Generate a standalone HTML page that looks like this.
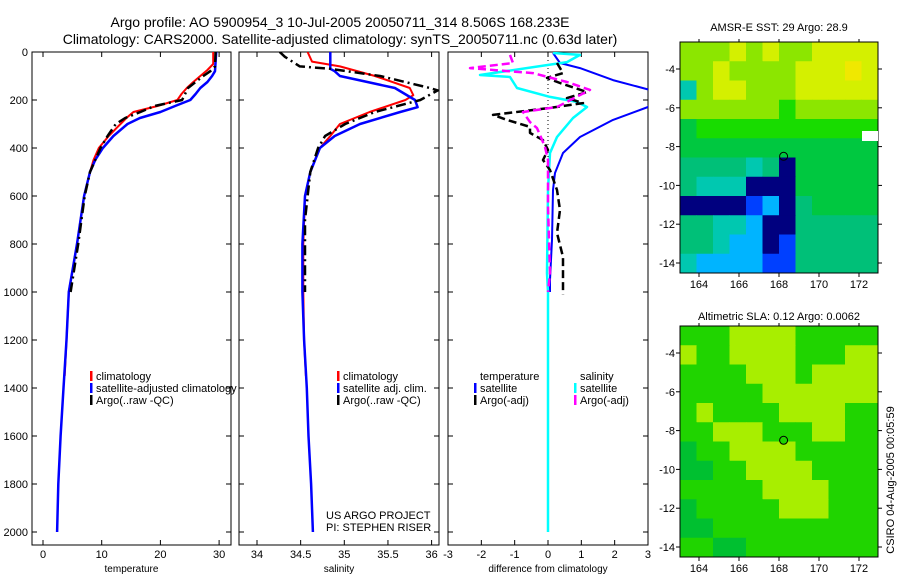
<!DOCTYPE html>
<html><head><meta charset="utf-8"><style>
body{margin:0;background:#fff;}
svg{display:block;font-family:"Liberation Sans",sans-serif;}
</style></head><body>
<svg id="c" width="900" height="580" xmlns="http://www.w3.org/2000/svg">
<text x="340" y="27" font-size="14" text-anchor="middle">Argo profile: AO 5900954_3 10-Jul-2005 20050711_314 8.506S 168.233E</text>
<text x="340" y="44" font-size="14" text-anchor="middle">Climatology: CARS2000. Satellite-adjusted climatology: synTS_20050711.nc (0.63d later)</text>
<text x="779" y="31" font-size="11" text-anchor="middle">AMSR-E SST: 29 Argo: 28.9</text>
<text x="779" y="320" font-size="11" text-anchor="middle">Altimetric SLA: 0.12 Argo: 0.0062</text>
<text x="0" y="0" font-size="11" text-anchor="middle" transform="translate(894,480) rotate(-90)">CSIRO 04-Aug-2005 00:05:59</text>
<text x="326" y="519" font-size="11">US ARGO PROJECT</text>
<text x="326" y="531" font-size="11">PI: STEPHEN RISER</text>
</svg>
<script>
// ---- data ----
const tempClimDepth = [0,50,75,100,125,150,175,200,225,250,275,300,350,400,450,500,600,800,1000,1200,1350];
const tempClim = [29.0,29.0,28.0,26.8,25.6,24.5,23.6,22.9,19.5,15.4,14.2,13.2,11.2,9.5,8.6,8.0,7.0,5.8,4.4,4.0,3.7];
const tempSatDepth = [0,80,100,125,150,175,200,225,250,275,300,350,400,450,500,600,800,1000,1200,1400,1600,1800,2000];
const tempSat  = [29.5,29.3,28.8,28.0,26.8,26.0,25.1,22.5,20.0,16.5,14.4,12.0,10.2,8.9,8.0,7.0,5.8,4.4,4.0,3.5,3.0,2.6,2.4];
const tempArgoDepth = [0,60,80,100,125,150,175,200,225,250,275,300,350,400,500,600,800,1000];
const tempArgo = [29.4,29.3,28.5,27.3,26.0,24.7,24.2,23.7,19.0,16.6,14.0,12.4,11.0,9.8,8.0,7.1,6.0,4.7];
const salDepth = [0,40,60,100,150,180,200,250,300,350,400,500,600,800,1000,1200,1350];
const salClim = [34.58,34.63,34.95,35.35,35.75,35.79,35.70,35.29,34.95,34.84,34.72,34.61,34.55,34.53,34.53,34.54,34.56];
const salSatDepth = [0,70,80,100,150,200,230,250,300,350,400,500,600,800,1000,1200,1400,1600,1800,2000];
const salSat = [34.84,34.84,34.89,34.95,35.58,35.81,35.84,35.64,35.18,34.89,34.72,34.61,34.55,34.52,34.52,34.54,34.57,34.59,34.62,34.64];
const salArgoDepth = [0,20,60,70,100,150,160,200,250,300,350,400,500,700,1000];
const salArgo = [34.26,34.32,34.49,34.84,35.41,35.98,36.07,35.87,35.35,35.01,34.78,34.70,34.61,34.55,34.55];
const dTDepth = [4,46,67,117,167,229,283,354,421,504,575,783,950,1000];
const dTSat = [0.15,0.36,0.96,1.95,3.3,3.0,1.95,0.96,0.45,0.21,0.15,0.12,0.06,0.06];
const dTArgoDepth = [46,88,108,129,167,192,213,233,262,283,312,337,367,408,450,492,575,658,754,854,950,1010];
const dTArgo = [0.27,0.45,-0.03,0.36,1.17,0.57,1.05,0.06,-1.65,-1.23,-0.54,-0.54,-0.15,0,-0.15,0.06,0.27,0.36,0.27,0.45,0.45,0.45];
const dSSatDepth = [4,12,42,96,104,150,187,208,229,275,354,421,575,921,1000,2000];
const dSSat = [0.15,0.96,0.57,-2.04,-1.14,-0.93,0.06,0.87,1.17,0.75,0.27,0.06,0,-0.03,0,0];
const dSArgoDepth = [12,46,67,88,125,158,229,250,292,317,346,396,450,646,921,1000];
const dSArgo = [-1.14,-1.05,-2.34,-0.45,0.57,1.26,0.27,-0.75,-0.54,-0.33,-0.24,-0.09,0,0,0.06,0];
const depthTicks = [0,200,400,600,800,1000,1200,1400,1600,1800,2000];
const tempTicks = [0,10,20,30];
const salTicks = [34,34.5,35,35.5,36];
const diffTicks = [-3,-2,-1,0,1,2,3];
const lonTicks = [164,166,168,170,172];
const latTicks = [-4,-6,-8,-10,-12,-14];
const sstGrid = ["777878778888","778777788898","378877788888","777777677777","566666666666","555555555555","444434055555","433300055555","000012045555","443320044444","443220144444","322221144444"];
const slaGrid = ["666777766666","766777766677","666677767777","666667777777","676666777766","667776667766","566777766666","556677776666","666667777666","566666777666","556666666666","665566666666"];

const NS="http://www.w3.org/2000/svg";
const svg=document.getElementById('c');
function mk(tag,attrs,parent){const e=document.createElementNS(NS,tag);for(const k in attrs)e.setAttribute(k,attrs[k]);(parent||svg).appendChild(e);return e;}
const top0=52, bot=545;
const yD = d => top0 + d*0.24;
const xT = t => 43 + t*5.87;
const xS = s => 257 + (s-34)*87.3;
const xDf = v => 548 + v*33.33;

const panels=[[32,231,xT,tempTicks,'temperature','temperature-panel'],[239,439,xS,salTicks,'salinity','salinity-panel'],[448,648,xDf,diffTicks,'difference from climatology','difference-panel']];
panels.forEach((p,i)=>{
  const g=mk('g',{});
  
  
  const cp=mk('clipPath',{id:'cp'+i},g);
  mk('rect',{x:p[0],y:top0,width:p[1]-p[0],height:bot-top0},cp);
  mk('rect',{x:p[0],y:top0,width:p[1]-p[0],height:bot-top0,fill:'none',stroke:'#000','stroke-width':1},g);
  depthTicks.forEach(d=>{
    mk('line',{x1:p[0],x2:p[0]+5,y1:yD(d),y2:yD(d),stroke:'#000'},g);
    mk('line',{x1:p[1]-5,x2:p[1],y1:yD(d),y2:yD(d),stroke:'#000'},g);
    if(i==0){const t=mk('text',{x:28,y:yD(d)+4,'font-size':11,'text-anchor':'end'},g);t.textContent=d;
      
      }
  });
  p[3].forEach(v=>{
    const x=p[2](v);
    mk('line',{x1:x,x2:x,y1:bot,y2:bot-5,stroke:'#000'},g);
    mk('line',{x1:x,x2:x,y1:top0,y2:top0+5,stroke:'#000'},g);
    const t=mk('text',{x:x,y:bot+13,'font-size':11,'text-anchor':'middle'},g);t.textContent=v;
    
    
  });
  const xt=mk('text',{x:(p[0]+p[1])/2,y:572,'font-size':10,'text-anchor':'middle'},g);xt.textContent=p[4];
  
  
});
const zl=mk('line',{x1:xDf(0),x2:xDf(0),y1:top0,y2:yD(480),stroke:'#000','stroke-dasharray':'1,3'});



function line(depths,vals,xf,color,w,dash,clip,name){
  const pts=vals.map((v,k)=>xf(v).toFixed(1)+','+yD(depths[k]).toFixed(1)).join(' ');
  const el=mk('polyline',{points:pts,fill:'none',stroke:color,'stroke-width':w,'stroke-linejoin':'round','clip-path':'url(#'+clip+')'});
  if(dash)el.setAttribute('stroke-dasharray',dash);
  
  
}
line(tempClimDepth,tempClim,xT,'#f00',2,null,'cp0','temp-climatology-line');
line(tempSatDepth,tempSat,xT,'#00f',2.5,null,'cp0','temp-satellite-line');
line(tempArgoDepth,tempArgo,xT,'#000',2.5,'10,4,2,4','cp0','temp-argo-line');
line(salDepth,salClim,xS,'#f00',2,null,'cp1','sal-climatology-line');
line(salSatDepth,salSat,xS,'#00f',2.5,null,'cp1','sal-satellite-line');
line(salArgoDepth,salArgo,xS,'#000',2.5,'10,4,2,4','cp1','sal-argo-line');
line(dTDepth,dTSat,xDf,'#00f',2,null,'cp2','temp-diff-satellite-line');
line(dSSatDepth,dSSat,xDf,'#0ff',2.5,null,'cp2','sal-diff-satellite-line');
line(dTArgoDepth,dTArgo,xDf,'#000',2.5,'8,4','cp2','temp-diff-argo-line');
line(dSArgoDepth,dSArgo,xDf,'#f0f',2.5,'8,4','cp2','sal-diff-argo-line');

function legend(x,y,color,label,name){
  const g=mk('g',{});
  
  
  if(color)mk('rect',{x:x,y:y-9,width:2.5,height:10,fill:color},g);
  const t=mk('text',{x:x+6,y:y,'font-size':11},g);t.textContent=label;
}
legend(90,380,'#f00','climatology','legend-entry-climatology');
legend(90,392,'#00f','satellite-adjusted climatology','legend-entry-satellite');
legend(90,404,'#000','Argo(..raw -QC)','legend-entry-argo');
legend(337,380,'#f00','climatology','legend-entry-sal-climatology');
legend(337,392,'#00f','satellite adj. clim.','legend-entry-sal-satellite');
legend(337,404,'#000','Argo(..raw -QC)','legend-entry-sal-argo');
legend(474,380,null,'temperature','legend-header-temperature');
legend(474,392,'#00f','satellite','legend-entry-diff-temp-satellite');
legend(474,404,'#000','Argo(-adj)','legend-entry-diff-temp-argo');
legend(574,380,null,'salinity','legend-header-salinity');
legend(574,392,'#0ff','satellite','legend-entry-diff-sal-satellite');
legend(574,404,'#f0f','Argo(-adj)','legend-entry-diff-sal-argo');

const sstColors=['#00007f','#0040ff','#00b4ff','#00c8b0','#00c078','#00c840','#18dc00','#8ce600','#d4f000','#f0e800'];
const slaColors=['#00007f','#0040ff','#00b4ff','#00c8b0','#00c078','#00c030','#20d400','#a8ee00','#d8f800','#f0e800'];
function map(x0,y0,w,h,grid,cols,name,circFill){
  const g=mk('g',{});
  
  
  const cw=w/grid[0].length, ch=h/grid.length;
  grid.forEach((row,r)=>{[...row].forEach((c,k)=>{
    const cell=mk('rect',{x:x0+k*cw,y:y0+r*ch,width:cw+0.5,height:ch+0.5,fill:cols[+c]},g);
    
    
  });});
  mk('rect',{x:x0,y:y0,width:w,height:h,fill:'none',stroke:'#000'},g);
  const lonX=l=>x0+19+(l-164)*20, latY=l=>y0+27+(-4-l)*19.4;
  lonTicks.forEach(l=>{
    mk('line',{x1:lonX(l),x2:lonX(l),y1:y0+h,y2:y0+h+4,stroke:'#000'},g);
    mk('line',{x1:lonX(l),x2:lonX(l),y1:y0,y2:y0-3,stroke:'#000'},g);
    const t=mk('text',{x:lonX(l),y:y0+h+15,'font-size':11,'text-anchor':'middle'},g);t.textContent=l;
    
    
  });
  latTicks.forEach(l=>{
    mk('line',{x1:x0-4,x2:x0,y1:latY(l),y2:latY(l),stroke:'#000'},g);
    mk('line',{x1:x0+w,x2:x0+w+4,y1:latY(l),y2:latY(l),stroke:'#000'},g);
    const t=mk('text',{x:x0-5,y:latY(l)+4,'font-size':11,'text-anchor':'end'},g);t.textContent=l;
    
    
  });
  const c=mk('circle',{cx:lonX(168.23),cy:latY(-8.5),r:4,fill:circFill,stroke:'#000'},g);
  
  
}
map(680,42,198,231,sstGrid,sstColors,'sst-map','none');
const wh=mk('rect',{x:862,y:131,width:16,height:10,fill:'#fff'});


map(680,326,198,231,slaGrid,slaColors,'sla-map','#20d400');
</script>
</body></html>
